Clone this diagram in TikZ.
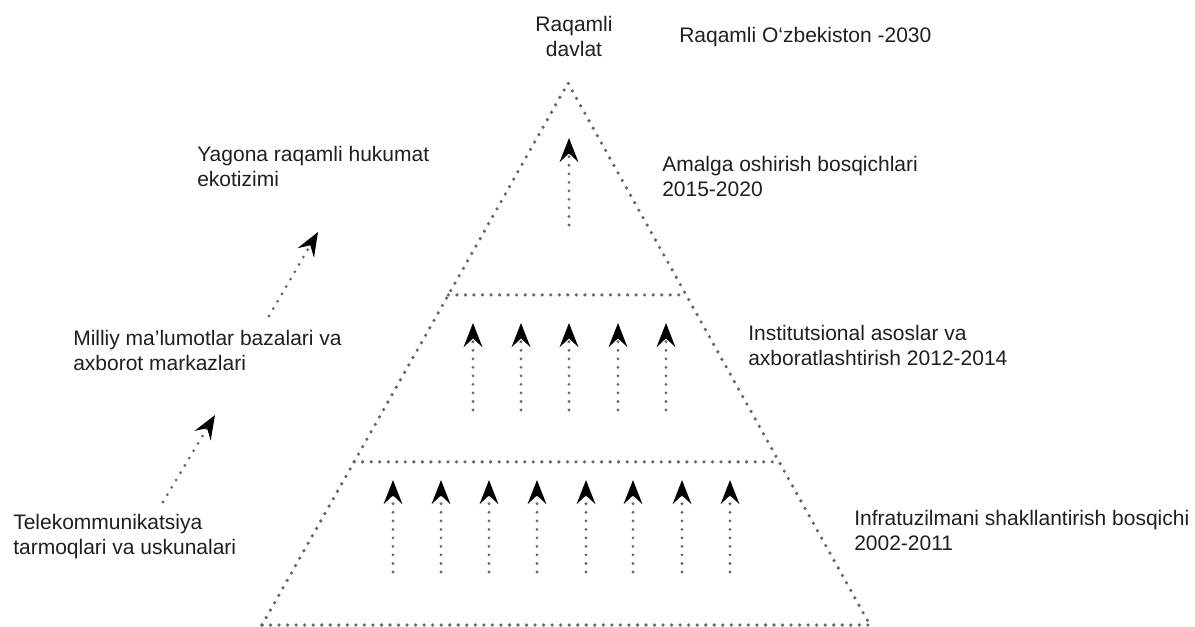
\documentclass[tikz,border=0pt]{standalone}
\usepackage{fontspec}
\setmainfont{Liberation Sans}
\usetikzlibrary{arrows.meta,calc}

\begin{document}
\begin{tikzpicture}[x=0.75pt,y=0.75pt,yscale=-1,xscale=1,
	dots/.style={draw=black!60, line width=2.7pt, line cap=round, dash pattern=on 0pt off 6.4pt},
	uparrow/.style={dots, line width=2.3pt, -{Stealth[black, length=18pt, width=14pt, inset=6.5pt]}},
	txt/.style={anchor=north west, inner sep=0pt, align=left, text=black!88, font=\fontsize{15.75}{18.9}\selectfont}]
	\useasboundingbox (0,0) rectangle (1195,626);
	% pyramid
	\coordinate (apex) at (568,83);
	\coordinate (bl) at (262,625);
	\coordinate (br) at (870,625);
	\draw [dots] (bl) -- (apex) -- (br) ;
	\draw [dots] (bl) -- (br) ;
	\draw [dots] ($(apex)!0.391!(bl)$) -- ($(apex)!0.391!(br)$) ;
	\draw [dots] ($(apex)!0.699!(bl)$) -- ($(apex)!0.699!(br)$) ;
	% top level
	\draw [uparrow] (569,225) -- (569,138) ;
	% middle level
	\draw [uparrow] (473,410) -- (473,323) ;
	\draw [uparrow] (521,410) -- (521,323) ;
	\draw [uparrow] (569,410) -- (569,323) ;
	\draw [uparrow] (618,410) -- (618,323) ;
	\draw [uparrow] (666,410) -- (666,323) ;
	% bottom level
	\draw [uparrow] (393,572) -- (393,480) ;
	\draw [uparrow] (441,572) -- (441,480) ;
	\draw [uparrow] (489,572) -- (489,480) ;
	\draw [uparrow] (537,572) -- (537,480) ;
	\draw [uparrow] (586,572) -- (586,480) ;
	\draw [uparrow] (633,572) -- (633,480) ;
	\draw [uparrow] (682,572) -- (682,480) ;
	\draw [uparrow] (730,572) -- (730,480) ;
	% left side
	\coordinate (telend) at (163,502);
	\coordinate (milstart) at (215,415);
	\coordinate (milend) at (269,316);
	\coordinate (yagstart) at (318,232);
	\draw [uparrow] (telend) -- (milstart) ;
	\draw [uparrow] (milend) -- (yagstart) ;

	\draw (574,16) node (davlat) [txt, anchor=north, align=center] {Raqamli\\davlat};
	\draw (679,27) node (uzb) [txt] {Raqamli O‘zbekiston -2030};
	\draw (197,146) node (yagona) [txt] {Yagona raqamli hukumat\\ekotizimi};
	\draw (73,330) node (milliy) [txt] {Milliy ma’lumotlar bazalari va\\axborot markazlari};
	\draw (13,514) node (telekom) [txt] {Telekommunikatsiya\\tarmoqlari va uskunalari};
	\draw (662,156) node (amalga) [txt] {Amalga oshirish bosqichlari\\2015-2020};
	\draw (748,325) node (instit) [txt] {Institutsional asoslar va\\axboratlashtirish 2012-2014};
	\draw (854,510) node (infra) [txt] {Infratuzilmani shakllantirish bosqichi\\2002-2011};
\end{tikzpicture}
\end{document}
